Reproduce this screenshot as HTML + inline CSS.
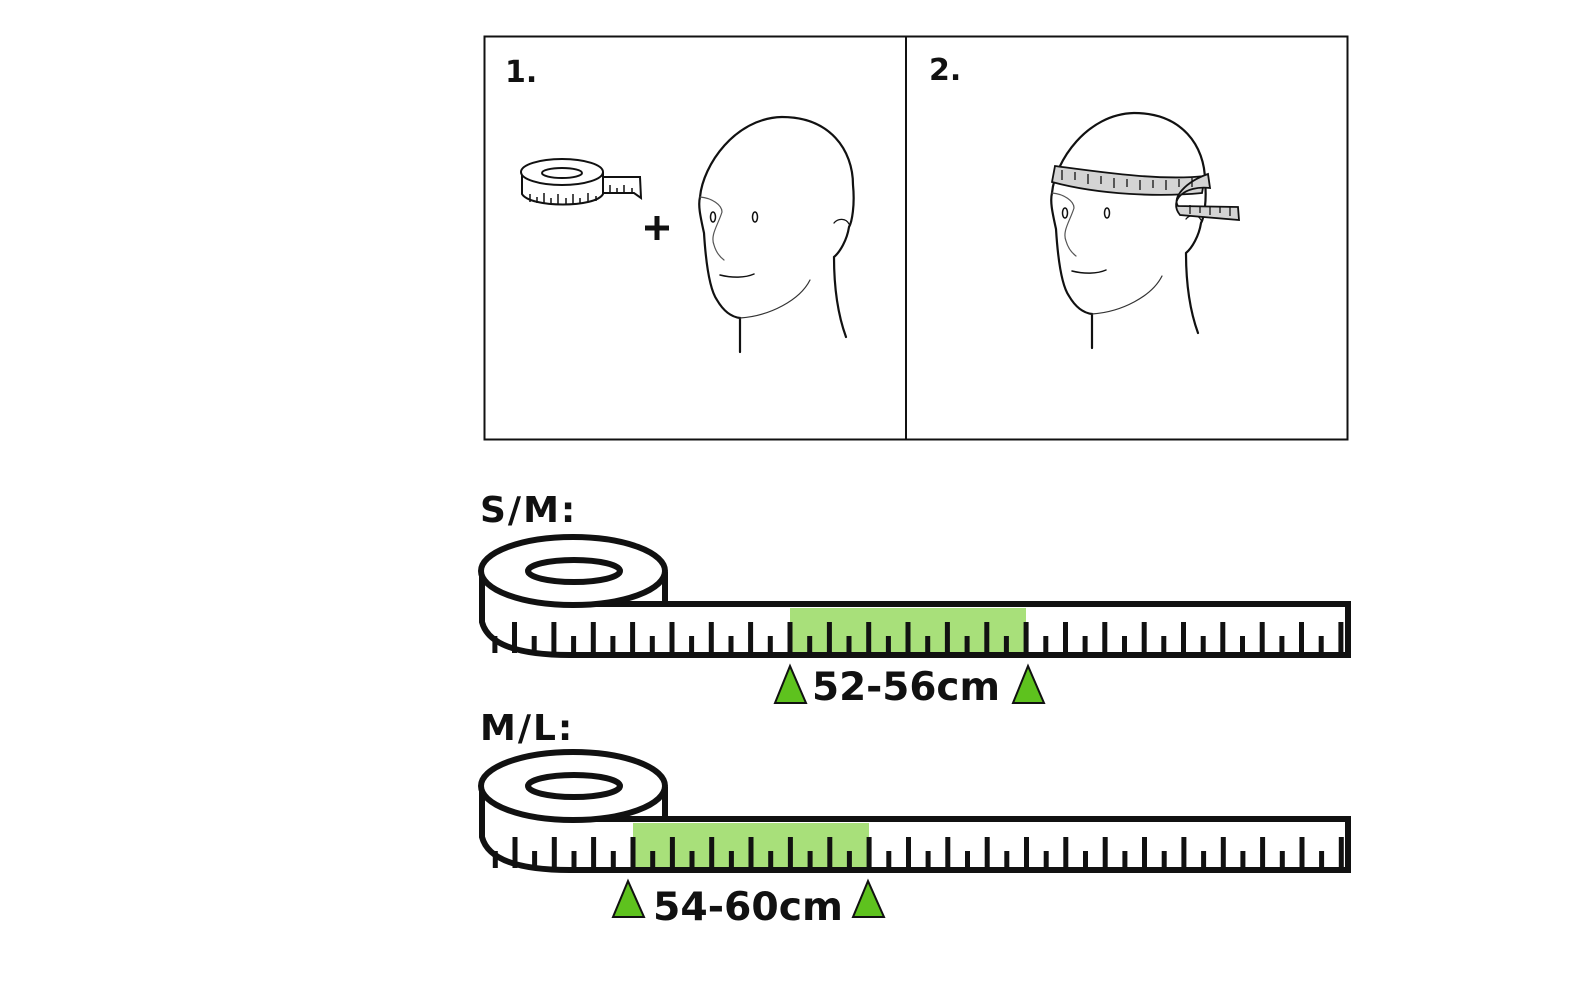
<!DOCTYPE html>
<html><head><meta charset="utf-8"><style>
html,body{margin:0;padding:0;background:#fff;width:1569px;height:988px;overflow:hidden}
svg{display:block}
text{font-family:"DejaVu Sans","Liberation Sans",sans-serif;font-weight:bold;fill:#111}
</style></head><body>
<svg width="1569" height="988" viewBox="0 0 1569 988" xmlns="http://www.w3.org/2000/svg">
<defs>
<g id="head" fill="none" stroke="#111" stroke-width="2.2" stroke-linecap="round">
  <path d="M700,197 C703,165 735,118 782,117 C830,117 853,150 853,185 C855,205 852,222 849,227 C847,240 840,252 834,257 C834,290 838,315 846,337"/>
  <path d="M700,197 C698,205 700,215 704,233 C706,265 710,290 717,300 C724,312 732,317 740,318 L740,352"/>
  <path d="M740,318 C770,316 800,300 810,280" stroke-width="1.2" stroke="#333"/>
  <path d="M700,197 C712,198 722,205 722,212 C718,225 710,235 714,245 C716,252 720,257 724,260" stroke-width="1.2" stroke="#555"/>
  <ellipse cx="713" cy="217" rx="2.5" ry="5" stroke-width="1.5"/>
  <ellipse cx="755" cy="217" rx="2.5" ry="5" stroke-width="1.5"/>
  <path d="M720,275 C732,278 745,278 754,274" stroke-width="1.5"/>
  <path d="M834,223 C838,218 846,218 849,224" stroke-width="1.3"/>
</g>
<g id="tape">
  <path d="M573,604 L1348,604 L1348,655 L570,655" fill="none" stroke="#111" stroke-width="6"/>
  <path d="M482,575 L482,622 C488,645 520,655 570,655" fill="none" stroke="#111" stroke-width="6"/>
  <ellipse cx="573" cy="571" rx="92" ry="34" fill="#fff" stroke="#111" stroke-width="6"/>
  <line x1="665" y1="572" x2="665" y2="604" stroke="#111" stroke-width="6"/>
  <ellipse cx="574" cy="571" rx="46" ry="11" fill="#fff" stroke="#111" stroke-width="6"/>
</g>
</defs>

<rect x="484.5" y="36.5" width="863" height="403" fill="none" stroke="#111" stroke-width="2"/>
<line x1="906" y1="37" x2="906" y2="439" stroke="#111" stroke-width="2"/>
<text x="505" y="82" font-size="30">1.</text>
<text x="929" y="80" font-size="30">2.</text>

<g fill="#fff" stroke="#111" stroke-width="2">
  <path d="M600,177 L640,177 L641,198 L634,193 L600,193 Z"/>
  <path d="M522,172 L522,194 C530,208 596,208 603,194 L603,172"/>
  <ellipse cx="562" cy="172" rx="41" ry="13"/>
  <ellipse cx="562" cy="173" rx="20" ry="5"/>
</g>
<g stroke="#111" stroke-width="1.5">
  <path d="M530,194v8M537,197v6M544,193v11M551,198v7M558,194v11M566,198v7M573,194v10M580,198v6M588,193v9M596,196v5M610,185v8M617,188v5M624,185v8M632,188v5"/>
</g>
<path d="M657,216v24M645,228h24" stroke="#111" stroke-width="5"/>

<use href="#head"/>
<use href="#head" transform="translate(352,-4)"/>

<g stroke="#111" stroke-width="1.8" fill="#d4d4d4">
  <path d="M1055,166 C1100,172 1160,181 1205,176 L1202,193 C1160,197 1100,195 1052,182 Z"/>
  <path d="M1208,174 C1185,182 1172,198 1178,206 L1238,207 L1239,220 L1180,215 C1168,200 1185,185 1210,188 Z"/>
</g>
<g stroke="#111" stroke-width="1.3">
  <path d="M1062,170v10M1075,172v8M1088,174v10M1101,176v8M1114,178v10M1127,179v8M1140,180v10M1153,180v8M1166,180v10M1179,179v8M1192,178v9M1190,205v9M1200,206v7M1210,206v9M1220,206v7M1230,207v9"/>
</g>

<text x="480" y="522" font-size="36" letter-spacing="2">S/M:</text>
<use href="#tape"/>
<rect x="790" y="608" width="236" height="44" fill="#a8e07a"/>
<g stroke="#111" stroke-width="5" id="ticks1"></g>

<text x="480" y="740" font-size="36" letter-spacing="2">M/L:</text>
<g transform="translate(0,215)">
  <use href="#tape"/>
  <rect x="633" y="608" width="236" height="44" fill="#a8e07a"/>
  <g stroke="#111" stroke-width="5" id="ticks2"></g>
</g>

<g fill="#5ec21e" stroke="#111" stroke-width="2">
  <polygon points="790,666 775,703 806,703"/>
  <polygon points="1028,666 1013,703 1044,703"/>
  <polygon points="628,881 613,917 644,917"/>
  <polygon points="868,881 853,917 884,917"/>
</g>
<text x="812" y="700" font-size="39" textLength="188" lengthAdjust="spacingAndGlyphs">52-56cm</text>
<text x="653" y="920" font-size="39" textLength="190" lengthAdjust="spacingAndGlyphs">54-60cm</text>

<script>
function ticks(id,base){
  var g=document.getElementById(id),s='',sp=39.35;
  for(var i=-12;i<24;i++){
    var x=base+i*sp;
    if(x>492&&x<1345){s+='M'+x.toFixed(1)+',622V653';}
    var xs=x+sp/2;
    if(xs>488&&xs<1345){s+='M'+xs.toFixed(1)+',636V653';}
  }
  var p=document.createElementNS('http://www.w3.org/2000/svg','path');
  p.setAttribute('d',s);g.appendChild(p);
}
ticks('ticks1',790);
ticks('ticks2',633);
</script>
</svg>
</body></html>
